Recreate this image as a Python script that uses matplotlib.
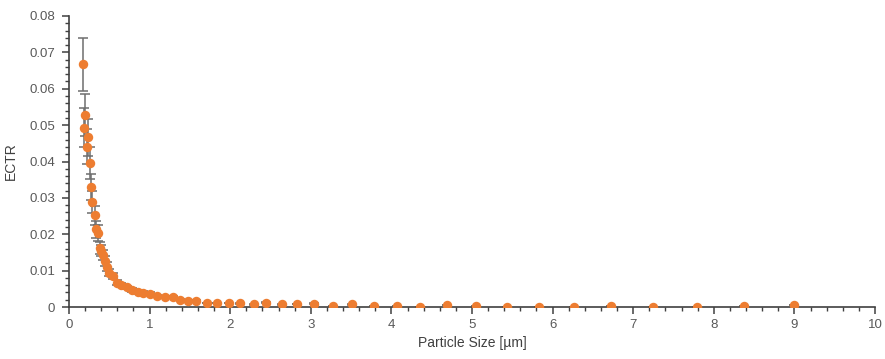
import matplotlib
matplotlib.use("Agg")
import matplotlib.pyplot as plt
from matplotlib.ticker import MultipleLocator, FormatStrFormatter

particle_size = [0.17, 0.18, 0.20, 0.22, 0.24, 0.26, 0.27, 0.29, 0.32, 0.34, 0.36,
                 0.385, 0.40, 0.42, 0.45, 0.47, 0.50, 0.54, 0.59, 0.65, 0.72, 0.78,
                 0.86, 0.92, 1.00, 1.09, 1.19, 1.29, 1.38, 1.48, 1.58, 1.71, 1.84,
                 1.98, 2.12, 2.29, 2.45, 2.64, 2.83, 3.04, 3.27, 3.51, 3.78, 4.07,
                 4.36, 4.69, 5.05, 5.43, 5.83, 6.27, 6.73, 7.25, 7.79, 8.37, 9.00]
ectr = [0.0667, 0.0493, 0.0527, 0.0440, 0.0466, 0.0396, 0.0331, 0.0289, 0.0252, 0.0214, 0.0204,
        0.0163, 0.0155, 0.0143, 0.0127, 0.0111, 0.0094, 0.0085, 0.0067, 0.0060, 0.0054, 0.0047,
        0.0041, 0.0039, 0.0036, 0.0030, 0.0028, 0.0027, 0.0020, 0.0017, 0.0016, 0.0011, 0.0011,
        0.0011, 0.0010, 0.0007, 0.0012, 0.0007, 0.0008, 0.0009, 0.0004, 0.0007, 0.0004, 0.0002,
        0.0000, 0.0005, 0.0002, 0.0000, 0.0000, 0.0000, 0.0002, 0.0000, 0.0000, 0.0002, 0.0005]
ectr_err = [0.0072, 0.0053, 0.0058, 0.0048, 0.0050, 0.0043, 0.0036, 0.0031, 0.0027, 0.0023, 0.0022,
            0.0017, 0.0016, 0.0015, 0.0013, 0.0012, 0.0010, 0.0009, 0.0007, 0.0006, 0.0005, 0.0005,
            0.0004, 0.0004, 0.0004, 0.0003, 0.0003, 0.0003, 0.0002, 0.0002, 0.0002, 0.0001, 0.0001,
            0.0001, 0.0001, 0.0001, 0.0001, 0.0001, 0.0001, 0.0001, 0.0000, 0.0001, 0.0000, 0.0000,
            0.0000, 0.0000, 0.0000, 0.0000, 0.0000, 0.0000, 0.0000, 0.0000, 0.0000, 0.0000, 0.0000]

plt.rcParams['font.family'] = ['Liberation Sans', 'DejaVu Sans']

fig = plt.figure(figsize=(8.85, 3.59), dpi=100)
ax = fig.add_axes([69/885, 1 - 307/359, (875-69)/885, (307-16)/359])

ax.errorbar(particle_size, ectr, yerr=ectr_err, fmt='none', ecolor='#6e6e6e',
            elinewidth=1.1, capsize=3.5, capthick=1.1, zorder=2)
ax.plot(particle_size, ectr, 'o', color='#ED7D31', markersize=6.8,
        markeredgewidth=0, zorder=3)

ax.set_xlim(0, 10)
ax.set_ylim(0, 0.08)
ax.xaxis.set_major_locator(MultipleLocator(1))
ax.xaxis.set_minor_locator(MultipleLocator(0.2))
ax.yaxis.set_major_locator(MultipleLocator(0.01))
ax.yaxis.set_minor_locator(MultipleLocator(0.002))
ax.xaxis.set_major_formatter(FormatStrFormatter('%d'))
ax.yaxis.set_major_formatter(plt.FuncFormatter(lambda v, p: '0' if abs(v) < 1e-12 else f'{v:.2f}'))

for s in ['top', 'right']:
    ax.spines[s].set_visible(False)
for s in ['left', 'bottom']:
    ax.spines[s].set_color('#404040')
    ax.spines[s].set_linewidth(1.2)

ax.tick_params(which='major', direction='out', length=5, width=1.1, color='#404040',
               labelsize=9.5, labelcolor='#595959')
ax.tick_params(which='minor', direction='out', length=3, width=1.0, color='#404040')
ax.tick_params(axis='y', which='major', pad=5)

ax.set_xlabel('Particle Size [µm]', fontsize=10, color='#404040', labelpad=4)
ax.set_ylabel('ECTR', fontsize=10, color='#404040', labelpad=8)

fig.savefig('out.png', dpi=100)
